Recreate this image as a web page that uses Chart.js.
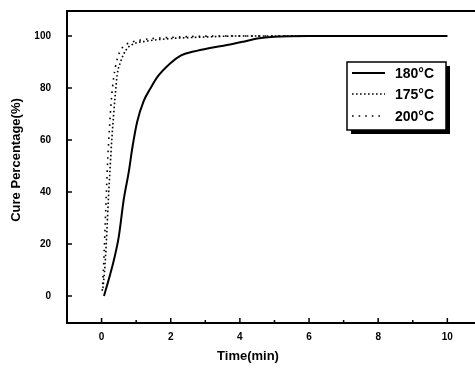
<!DOCTYPE html>
<html>
<head>
<meta charset="utf-8">
<script src="https://cdn.jsdelivr.net/npm/chart.js@4.4.1/dist/chart.umd.min.js"></script>
<style>
  html, body { margin: 0; padding: 0; background: #fff; }
  #wrap { width: 475px; height: 369px; }
</style>
</head>
<body>
<div id="wrap"><canvas id="cureChart" width="475" height="369"></canvas></div>
<script>
// valores
const labels = ['180°C', '175°C', '200°C'];
const t180 = [0.07, 0.2, 0.36, 0.5, 0.64, 0.79, 0.89, 1.03, 1.22, 1.42, 1.6, 1.99, 2.3, 2.66, 3.1, 3.63, 4.1, 4.5, 5.0, 6.0, 8.0, 10.0];
const p180 = [0, 6, 14, 23, 37, 48, 57, 67, 75, 80, 84, 89.5, 92.5, 94, 95.3, 96.5, 97.8, 99, 99.7, 100, 100, 100];
const t175 = [0.04, 0.1, 0.15, 0.2, 0.25, 0.3, 0.35, 0.4, 0.45, 0.55, 0.7, 0.9, 1.3, 2.0, 3.0, 4.0, 6.0, 8.0, 10.0];
const p175 = [3, 12, 24, 38, 50, 61, 70, 78, 85, 90, 94.5, 96.8, 98, 99, 99.6, 100, 100, 100, 100];
const t200 = [0.02, 0.06, 0.1, 0.14, 0.18, 0.23, 0.28, 0.35, 0.45, 0.6, 0.85, 1.2, 1.8, 2.6, 4.0, 6.0, 8.0, 10.0];
const p200 = [2, 12, 26, 40, 53, 65, 75, 84, 91, 95.5, 97.5, 98.6, 99.3, 99.8, 100, 100, 100, 100];
const xLabelTicks = [0, 2, 4, 6, 8, 10];
const yLabelTicks = [0, 20, 40, 60, 80, 100];

const toPts = (ts, ps) => ts.map((t, i) => ({ x: t, y: ps[i] }));
const FONT = '"Liberation Sans", Arial, sans-serif';

// moldura, ticks para dentro, titulos e legenda
const framePlugin = {
    id: 'frame',
    afterDraw(chart) {
        const { ctx, chartArea: a, scales } = chart;
        const xs = scales.x, ys = scales.y;
        ctx.save();
        ctx.strokeStyle = '#000';
        ctx.lineWidth = 2;
        ctx.beginPath();
        ctx.moveTo(a.left, a.top);
        ctx.lineTo(a.right, a.top);
        ctx.stroke();

        ctx.lineWidth = 1.5;
        ctx.beginPath();
        for (let v = 0; v <= 10; v++) {
            const px = xs.getPixelForValue(v);
            const len = v % 2 === 0 ? 5 : 3;
            ctx.moveTo(px, a.bottom);
            ctx.lineTo(px, a.bottom - len);
        }
        yLabelTicks.forEach(v => {
            const py = ys.getPixelForValue(v);
            ctx.moveTo(a.left, py);
            ctx.lineTo(a.left + 5, py);
        });
        ctx.stroke();

        ctx.fillStyle = '#000';
        ctx.font = 'bold 13px ' + FONT;
        ctx.textAlign = 'center';
        ctx.textBaseline = 'middle';
        ctx.fillText('Time(min)', 248, 356);
        ctx.translate(16, 160);
        ctx.rotate(-Math.PI / 2);
        ctx.fillText('Cure Percentage(%)', 0, 0);
        ctx.restore();

        // legenda
        const bx = 347, by = 62, bw = 99, bh = 68;
        ctx.save();
        ctx.fillStyle = '#000';
        ctx.fillRect(bx + 4, by + 4, bw, bh);
        ctx.fillStyle = '#fff';
        ctx.fillRect(bx, by, bw, bh);
        ctx.strokeStyle = '#000';
        ctx.lineWidth = 1.5;
        ctx.strokeRect(bx, by, bw, bh);
        const rows = [73, 94, 116];
        chart.data.datasets.forEach((ds, i) => {
            ctx.beginPath();
            ctx.lineWidth = ds.borderWidth;
            ctx.setLineDash(ds.borderDash || []);
            ctx.moveTo(352, rows[i]);
            ctx.lineTo(385, rows[i]);
            ctx.stroke();
            ctx.setLineDash([]);
            ctx.fillStyle = '#000';
            ctx.font = 'bold 14px ' + FONT;
            ctx.textAlign = 'left';
            ctx.textBaseline = 'middle';
            ctx.fillText(ds.label, 395, rows[i] + 1);
        });
        ctx.restore();
    }
};

const ctx = document.getElementById('cureChart').getContext('2d');
const myChart = new Chart(ctx, {
    type: 'line',
    data: {
        datasets: [
            { label: labels[0], data: toPts(t180, p180), borderColor: '#000', borderWidth: 2, cubicInterpolationMode: 'monotone' },
            { label: labels[1], data: toPts(t175, p175), borderColor: '#000', borderWidth: 1.6, borderDash: [1.6, 2.4], cubicInterpolationMode: 'monotone' },
            { label: labels[2], data: toPts(t200, p200), borderColor: '#000', borderWidth: 1.6, borderDash: [1.6, 5], cubicInterpolationMode: 'monotone' }
        ]
    },
    options: {
        responsive: false,
        animation: false,
        devicePixelRatio: 1,
        layout: { padding: { top: 11, right: 0, bottom: 0, left: 0 } },
        elements: { point: { radius: 0 } },
        plugins: { legend: { display: false }, tooltip: { enabled: false } },
        scales: {
            x: {
                type: 'linear',
                min: -1,
                max: 10.8,
                grid: { display: false, drawTicks: false },
                border: { display: true, color: '#000', width: 2 },
                afterBuildTicks: s => { s.ticks = xLabelTicks.map(v => ({ value: v })); },
                afterFit: s => { s.height = 46; s.paddingLeft = 0; s.paddingRight = 0; },
                ticks: {
                    autoSkip: false,
                    maxRotation: 0,
                    padding: 8,
                    color: '#000',
                    font: { family: FONT, size: 10, weight: 'bold' }
                }
            },
            y: {
                min: -10.4,
                max: 109.6,
                grid: { display: false, drawTicks: false },
                border: { display: true, color: '#000', width: 2 },
                afterBuildTicks: s => { s.ticks = yLabelTicks.map(v => ({ value: v })); },
                afterFit: s => { s.width = 67; s.paddingTop = 0; s.paddingBottom = 0; },
                ticks: {
                    padding: 16,
                    color: '#000',
                    font: { family: FONT, size: 10, weight: 'bold' }
                }
            }
        }
    },
    plugins: [framePlugin]
});
</script>
</body>
</html>
